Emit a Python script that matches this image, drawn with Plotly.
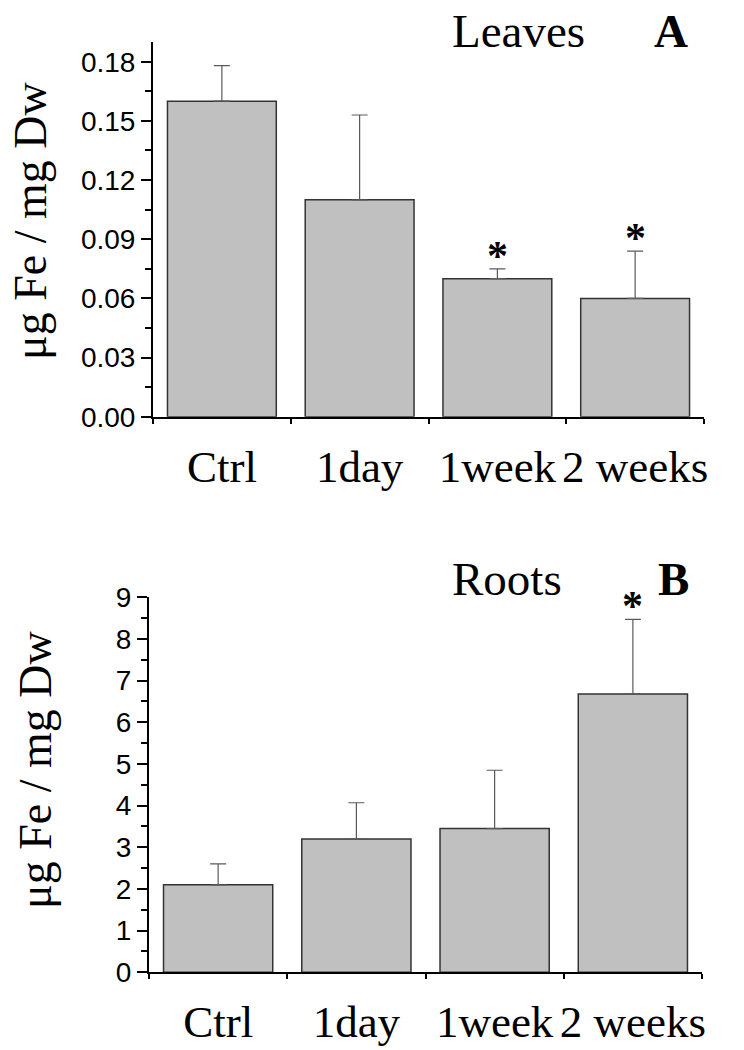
import plotly.graph_objects as go

# ---- data ----
categories = ["Ctrl", "1day", "1week", "2 weeks"]
leaves_vals = [0.160, 0.110, 0.070, 0.060]
leaves_err = [0.018, 0.043, 0.005, 0.024]
leaves_sig = [False, False, True, True]
roots_vals = [2.10, 3.20, 3.45, 6.68]
roots_err = [0.50, 0.87, 1.40, 1.79]
roots_sig = [False, False, False, True]
leaves_yticks = [0.00, 0.03, 0.06, 0.09, 0.12, 0.15, 0.18]
roots_yticks = [0, 1, 2, 3, 4, 5, 6, 7, 8, 9]

SERIF = "Liberation Serif"
SANS = "Liberation Sans"
BAR_FILL = "#c0c0c0"
BAR_LINE = "#333333"
ERR_COL = "#5a5a5a"

fig = go.Figure()

def add_panel(vals, errs, xa, ya):
    fig.add_trace(go.Bar(
        x=categories, y=vals, xaxis=xa, yaxis=ya, width=0.79,
        marker=dict(color=BAR_FILL, line=dict(color=BAR_LINE, width=1.5)),
        error_y=dict(type="data", symmetric=False, array=errs,
                     arrayminus=[0] * len(errs), color=ERR_COL,
                     thickness=1.2, width=8),
        showlegend=False, hoverinfo="skip",
    ))

add_panel(leaves_vals, leaves_err, "x", "y")
add_panel(roots_vals, roots_err, "x2", "y2")

n = len(categories)
bounds = [i - 0.5 for i in range(n + 1)]

def xaxis_main(domain, anchor):
    return dict(domain=domain, anchor=anchor, type="category",
                range=[-0.5, n - 0.5], tickson="boundaries",
                ticks="outside", ticklen=5, tickwidth=1.5, tickcolor="black",
                showline=True, linecolor="black", linewidth=2,
                showgrid=False, zeroline=False, automargin=False,
                tickangle=0,
                tickfont=dict(family=SERIF, size=45, color="black"),
                ticklabelstandoff=9)

def xaxis_inner(over, anchor):
    return dict(overlaying=over, anchor=anchor, range=[-0.5, n - 0.5],
                tickmode="array", tickvals=bounds, ticks="inside",
                ticklen=5, tickwidth=1.5, tickcolor="black",
                showticklabels=False, showline=False, showgrid=False,
                zeroline=False, automargin=False)

def yaxis(domain, anchor, rng, tickvals, minor_dtick, fmt):
    return dict(domain=domain, anchor=anchor, range=rng,
                tickmode="array", tickvals=tickvals, tickformat=fmt,
                ticks="outside", ticklen=10, tickwidth=1.5, tickcolor="black",
                minor=dict(ticks="outside", ticklen=6, tickwidth=1.5,
                           tickcolor="black", dtick=minor_dtick, tick0=0,
                           showgrid=False),
                showline=True, linecolor="black", linewidth=2,
                showgrid=False, zeroline=False, automargin=False,
                tickfont=dict(family=SANS, size=28, color="black"))

fig.update_layout(
    width=744, height=1050,
    margin=dict(l=0, r=0, t=0, b=0),
    paper_bgcolor="white", plot_bgcolor="white",
    xaxis=xaxis_main([153 / 744, 704 / 744], "y"),
    yaxis=yaxis([0.6031, 0.96], "x", [0, 0.19], leaves_yticks, 0.015, ".2f"),
    xaxis2=xaxis_main([149 / 744, 702 / 744], "y2"),
    yaxis2=yaxis([0.0740, 0.4311], "x2", [0, 9], roots_yticks, 0.5, "d"),
    xaxis3=xaxis_inner("x", "y"),
    xaxis4=xaxis_inner("x2", "y2"),
)

annotations = []
for vals, errs, sig, xr, yr in [(leaves_vals, leaves_err, leaves_sig, "x", "y"),
                                (roots_vals, roots_err, roots_sig, "x2", "y2")]:
    for c, v, e, s in zip(categories, vals, errs, sig):
        if s:
            annotations.append(dict(x=c, y=v + e, xref=xr, yref=yr,
                                    text="<b>*</b>", showarrow=False,
                                    yanchor="bottom", yshift=-12,
                                    font=dict(family=SERIF, size=42, color="black")))

def txt(text, x, y, size=47, angle=0):
    return dict(text=text, x=x / 744, y=1 - y / 1050, xref="paper", yref="paper",
                showarrow=False, xanchor="center", yanchor="middle",
                textangle=angle, font=dict(family=SERIF, size=size, color="black"))

annotations += [
    txt("Leaves", 518, 31),
    txt("<b>A</b>", 671, 31),
    txt("Roots", 507, 579),
    txt("<b>B</b>", 673, 579),
    txt("μg Fe / mg Dw", 30, 221, size=46, angle=-90),
    txt("μg Fe / mg Dw", 35, 770, size=46, angle=-90),
]
fig.update_layout(annotations=annotations)

fig.write_html("out.html",
               config={"displayModeBar": False},
               post_script="document.body.style.margin='0';"
                           "document.body.style.overflow='hidden';")
